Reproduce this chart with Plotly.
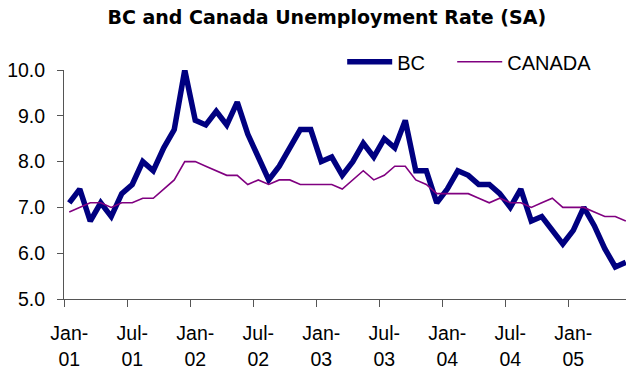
import plotly.graph_objects as go

# ---- data ----
years = ["01", "02", "03", "04", "05"]
month_names = ["Jan", "Feb", "Mar", "Apr", "May", "Jun", "Jul", "Aug", "Sep", "Oct", "Nov", "Dec"]
months = [f"{m}-{y}" for y in years for m in month_names][:54]  # Jan-01 .. Jun-05

bc = [7.1, 7.4, 6.7, 7.1, 6.8, 7.3, 7.5, 8.0, 7.8, 8.3, 8.7, 10.0,
      8.9, 8.8, 9.1, 8.8, 9.3, 8.6, 8.1, 7.6, 7.9, 8.3, 8.7, 8.7,
      8.0, 8.1, 7.7, 8.0, 8.4, 8.1, 8.5, 8.3, 8.9, 7.8, 7.8, 7.1,
      7.4, 7.8, 7.7, 7.5, 7.5, 7.3, 7.0, 7.4, 6.7, 6.8, 6.5, 6.2,
      6.5, 7.0, 6.6, 6.1, 5.7, 5.8]
canada = [6.9, 7.0, 7.1, 7.1, 7.0, 7.1, 7.1, 7.2, 7.2, 7.4, 7.6, 8.0,
          8.0, 7.9, 7.8, 7.7, 7.7, 7.5, 7.6, 7.5, 7.6, 7.6, 7.5, 7.5,
          7.5, 7.5, 7.4, 7.6, 7.8, 7.6, 7.7, 7.9, 7.9, 7.6, 7.5, 7.3,
          7.3, 7.3, 7.3, 7.2, 7.1, 7.2, 7.1, 7.1, 7.0, 7.1, 7.2, 7.0,
          7.0, 7.0, 6.9, 6.8, 6.8, 6.7]
y_ticks = [5.0, 6.0, 7.0, 8.0, 9.0, 10.0]

FONT = "Arial, 'Liberation Sans', sans-serif"
NBSP = "\u00a0"
idx = list(range(len(months)))
label_idx = idx[::6]
label_text = [months[i].replace("-", "-<br>") for i in label_idx]
tick_marks = [i - 0.5 for i in label_idx]

fig = go.Figure()
fig.add_trace(go.Scatter(x=idx, y=bc, mode="lines", name="BC" + NBSP * 4,
                         line=dict(color="#000080", width=5.5)))
fig.add_trace(go.Scatter(x=idx, y=canada, mode="lines", name="CANADA",
                         line=dict(color="#800080", width=1.6)))

xr = [-0.5, 53.02]
fig.update_layout(
    width=626, height=371,
    margin=dict(l=64.3, r=0, t=70, b=71.7, autoexpand=False),
    paper_bgcolor="white", plot_bgcolor="white",
    font=dict(family=FONT, color="black", size=20),
    title=dict(text="<b>BC and Canada Unemployment Rate (SA)</b>",
               font=dict(family="'DejaVu Sans', sans-serif", size=19, color="black"),
               x=0.522, xanchor="center", xref="container",
               y=0.954, yanchor="middle"),
    showlegend=True,
    legend=dict(orientation="h", x=0.495, xanchor="left", y=1.036, yanchor="middle",
                font=dict(family=FONT, size=20, color="black"),
                bgcolor="rgba(0,0,0,0)", itemwidth=45),
    xaxis=dict(range=xr, tickmode="array", tickvals=label_idx, ticktext=label_text,
               ticks="", showgrid=False, zeroline=False, showline=True,
               linecolor="#555", linewidth=1, ticklabelstandoff=17,
               tickfont=dict(family=FONT, size=19.5, color="black")),
    xaxis2=dict(range=xr, overlaying="x", anchor="y", side="bottom",
                tickmode="array", tickvals=tick_marks, showticklabels=False,
                ticks="outside", ticklen=7, tickcolor="#555", tickwidth=1,
                showgrid=False, zeroline=False, showline=False),
    yaxis=dict(range=[5, 10], tickmode="array", tickvals=y_ticks,
               ticktext=[f"{v:.1f}" for v in y_ticks],
               ticks="outside", ticklen=6, tickcolor="#555", tickwidth=1,
               showgrid=False, zeroline=False, showline=True,
               linecolor="#555", linewidth=1, ticklabelstandoff=8,
               tickfont=dict(family=FONT, size=19.5, color="black")),
)
# invisible trace to activate xaxis2
fig.add_trace(go.Scatter(x=[xr[0]], y=[5], xaxis="x2", mode="markers",
                         marker=dict(opacity=0), showlegend=False, hoverinfo="skip"))

fig.write_html("out.html", config={"displayModeBar": False},
               post_script="document.body.style.margin='0';document.body.style.overflow='hidden';")
